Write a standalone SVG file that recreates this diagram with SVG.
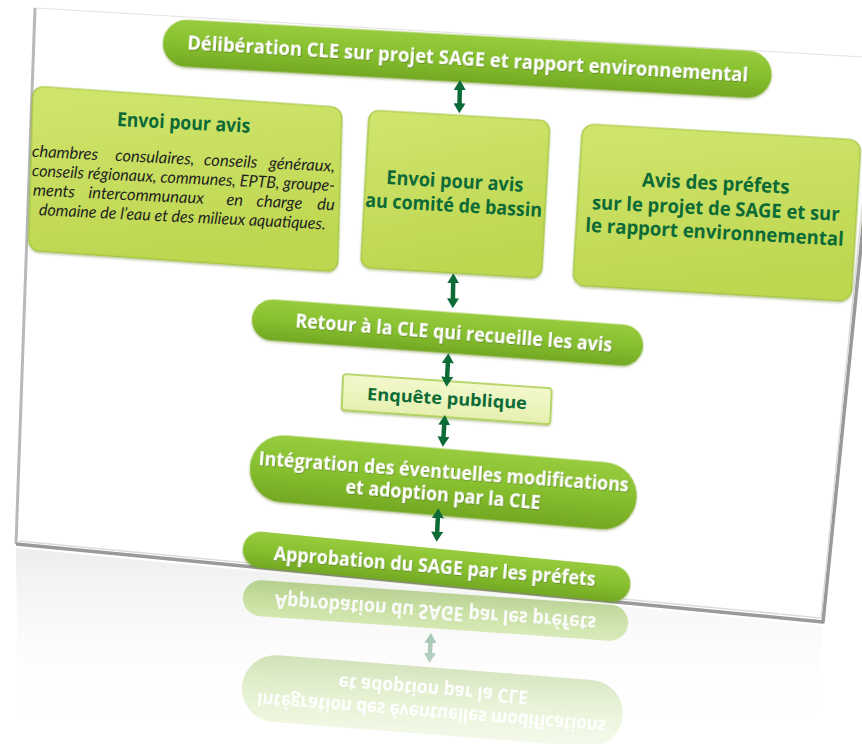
<svg xmlns="http://www.w3.org/2000/svg" width="862" height="744" viewBox="0 0 862 744">
<defs>
  <linearGradient id="gPill" x1="0" y1="0" x2="0" y2="1">
    <stop offset="0" stop-color="#98cb3e"/>
    <stop offset="0.5" stop-color="#87c02f"/>
    <stop offset="1" stop-color="#73a823"/>
  </linearGradient>
  <linearGradient id="gBox" x1="0" y1="0" x2="0.3" y2="1">
    <stop offset="0" stop-color="#d1e56e"/>
    <stop offset="1" stop-color="#bed751"/>
  </linearGradient>
  <linearGradient id="gEnq" x1="0" y1="0" x2="0" y2="1">
    <stop offset="0" stop-color="#f2f8cc"/>
    <stop offset="1" stop-color="#e6f0b0"/>
  </linearGradient>
  <linearGradient id="gCardRef" gradientUnits="userSpaceOnUse" x1="0" y1="550" x2="0" y2="720">
    <stop offset="0" stop-color="#e6e6e6" stop-opacity="0.7"/>
    <stop offset="1" stop-color="#ffffff" stop-opacity="0"/>
  </linearGradient>
  <linearGradient id="gFade" gradientUnits="userSpaceOnUse" x1="0" y1="574" x2="0" y2="744">
    <stop offset="0" stop-color="#ffffff" stop-opacity="0.5"/>
    <stop offset="1" stop-color="#ffffff" stop-opacity="0.1"/>
  </linearGradient>
  <mask id="mFade" maskUnits="userSpaceOnUse" x="0" y="560" width="862" height="184">
    <rect x="0" y="560" width="862" height="184" fill="url(#gFade)"/>
  </mask>
  <filter id="fShadow" x="-5%" y="-20%" width="110%" height="150%">
    <feDropShadow dx="0" dy="1.5" stdDeviation="1.2" flood-color="#4d6b0f" flood-opacity="0.4"/>
  </filter>
  <filter id="fTxt" x="-5%" y="-30%" width="110%" height="160%">
    <feDropShadow dx="0.8" dy="0.8" stdDeviation="0.6" flood-color="#2f4a08" flood-opacity="0.5"/>
  </filter>
  <marker id="ah" viewBox="0 0 10 12" refX="1" refY="6" markerWidth="10" markerHeight="12" markerUnits="userSpaceOnUse" orient="auto-start-reverse">
    <path d="M0,0 L10,6 L0,12 Z" fill="#0d6b37"/>
  </marker>
</defs>
<style>
  .pill{fill:url(#gPill);filter:url(#fShadow);}
  .rpill{fill:url(#gPill);}
  .box{fill:url(#gBox);stroke:#a2c63e;stroke-width:1.2;filter:url(#fShadow);}
  .enq{fill:url(#gEnq);stroke:#a8cb47;stroke-width:1.5;filter:url(#fShadow);}
  .wt{font-family:'Open Sans',Lato,'Liberation Sans',sans-serif;font-weight:700;font-size:20px;fill:#ffffff;text-anchor:middle;}
  .sh{filter:url(#fTxt);}
  .gt{font-family:'Open Sans',Lato,'Liberation Sans',sans-serif;font-weight:700;font-size:19.5px;fill:#0b6a36;text-anchor:middle;}
  .it{font-family:Lato,'Open Sans','Liberation Sans',sans-serif;font-style:italic;font-size:16.5px;fill:#1f1f1f;}
  .arr{stroke:#0d6b37;stroke-width:4.5;fill:none;marker-start:url(#ah);marker-end:url(#ah);}
</style>

<g id="card">
  <polygon points="16,548 823,626 816,744 18,744" fill="url(#gCardRef)"/>
  <polygon points="35,8 880,58 823,622 16,544" fill="#ffffff"/>
  <polyline points="35,8 880,58" fill="none" stroke="#e2e2e2" stroke-width="1"/>
  <polyline points="35,8 16,544" fill="none" stroke="#b9b9b9" stroke-width="3"/>
  <polyline points="16,544 823,622 880,58" fill="none" stroke="#999999" stroke-width="3.5" stroke-linejoin="round"/>
  <polyline points="19,541 821,618 877,58" fill="none" stroke="#dcdcdc" stroke-width="1.5"/>
</g>

<g id="reflection" mask="url(#mFade)">
  <g transform="translate(243,597) rotate(4) scale(1,-1)">
    <rect class="rpill" x="0" y="-18" width="386" height="36" rx="18"/>
    <text class="wt" x="193" y="5" textLength="322" lengthAdjust="spacingAndGlyphs">Approbation du SAGE par les préfets</text>
  </g>
  <line x1="430.5" y1="642" x2="429.9" y2="654" stroke="#0d6b37" stroke-width="4.5" marker-start="url(#ah)" marker-end="url(#ah)"/>
  <g transform="translate(242,686) rotate(4.5) scale(1,-1)">
    <rect class="rpill" x="0" y="-33.5" width="382" height="67" rx="33.5"/>
    <text class="wt" style="font-size:19px" x="191" y="-5.5" textLength="350" lengthAdjust="spacingAndGlyphs">Intégration des éventuelles modifications</text>
    <text class="wt" style="font-size:19px" x="191" y="17.5" textLength="190" lengthAdjust="spacingAndGlyphs">et adoption par la CLE</text>
  </g>
</g>

<g id="n-deliberation">
  <rect class="pill" transform="translate(163,42) rotate(3.15)" x="0" y="-23.5" width="609.5" height="47" rx="23.5"/>
  <text class="wt sh" transform="translate(467.3,65.5) rotate(3.3)" textLength="561.6" lengthAdjust="spacingAndGlyphs">Délibération CLE sur projet SAGE et rapport environnemental</text>
</g>

<g id="n-envoi-avis">
  <rect class="box" transform="matrix(0.9968,0.069,-0.0274,1.0024,33,86)" width="310" height="164" rx="11"/>
  <text class="gt" transform="translate(183.3,129.3) rotate(2.9)" textLength="133.5" lengthAdjust="spacingAndGlyphs">Envoi pour avis</text>
  <g transform="translate(31.7,156.7) rotate(2.85)">
    <text class="it" y="0"><tspan x="0">chambres</tspan> <tspan x="83.3">consulaires,</tspan> <tspan x="172.3">conseils</tspan> <tspan x="303.3" text-anchor="end">généraux,</tspan></text>
    <text class="it" x="1" y="19.3" textLength="303.3" lengthAdjust="spacingAndGlyphs">conseils régionaux, communes, EPTB, groupe-</text>
    <text class="it" y="38.6"><tspan x="3">ments</tspan> <tspan x="58.5">intercommunaux</tspan> <tspan x="196.7">en</tspan> <tspan x="226.7">charge</tspan> <tspan x="305" text-anchor="end">du</tspan></text>
    <text class="it" x="153.5" y="58" text-anchor="middle" textLength="287" lengthAdjust="spacingAndGlyphs">domaine de l’eau et des milieux aquatiques.</text>
  </g>
</g>

<g id="n-comite">
  <rect class="box" transform="matrix(0.9983,0.0591,-0.0548,1.0019,369.3,110)" width="181" height="157" rx="10"/>
  <text class="gt" transform="translate(454.5,187.9) rotate(3.2)" textLength="137" lengthAdjust="spacingAndGlyphs">Envoi pour avis</text>
  <text class="gt" transform="translate(453.3,211.9) rotate(3.3)" textLength="177" lengthAdjust="spacingAndGlyphs">au comité de bassin</text>
</g>

<g id="n-prefets">
  <rect class="box" transform="matrix(0.9975,0.0584,-0.0621,1.0019,582.7,123.7)" width="279" height="161" rx="12"/>
  <text class="gt" transform="translate(715.5,190) rotate(2.8)" textLength="147.7" lengthAdjust="spacingAndGlyphs">Avis des préfets</text>
  <text class="gt" transform="translate(715.5,215) rotate(2.7)" textLength="247.8" lengthAdjust="spacingAndGlyphs">sur le projet de SAGE et sur</text>
  <text class="gt" transform="translate(714.2,238.8) rotate(3.1)" textLength="258.7" lengthAdjust="spacingAndGlyphs">le rapport environnemental</text>
</g>

<g id="n-retour">
  <rect class="pill" transform="translate(252,318.5) rotate(4.1)" x="0" y="-20.5" width="392" height="41" rx="20.5"/>
  <text class="wt sh" transform="translate(453.3,339.5) rotate(4.4)" textLength="317.6" lengthAdjust="spacingAndGlyphs">Retour à la CLE qui recueille les avis</text>
</g>

<g id="n-enquete">
  <rect class="enq" transform="matrix(0.9976,0.0685,-0.0444,1,343.3,374)" width="208.9" height="36" rx="3"/>
  <text class="gt" style="font-size:17px" transform="translate(446.7,404.5) rotate(3.3)" textLength="160" lengthAdjust="spacingAndGlyphs">Enquête publique</text>
</g>

<g id="n-integration">
  <rect class="pill" transform="translate(250,466) rotate(4.8)" x="0" y="-33.5" width="388" height="67" rx="33.5"/>
  <text class="wt sh" transform="translate(443.3,478.3) rotate(4.1)" textLength="371" lengthAdjust="spacingAndGlyphs">Intégration des éventuelles modifications</text>
  <text class="wt sh" transform="translate(442.5,501.3) rotate(4.7)" textLength="195.7" lengthAdjust="spacingAndGlyphs">et adoption par la CLE</text>
</g>

<g id="n-approbation">
  <rect class="pill" transform="translate(243,548) rotate(5.5)" x="0" y="-18" width="389" height="36" rx="18"/>
  <text class="wt sh" transform="translate(434.2,573) rotate(4.6)" textLength="322.7" lengthAdjust="spacingAndGlyphs">Approbation du SAGE par les préfets</text>
</g>

<g id="connectors">
  <line class="arr" x1="459.8" y1="89" x2="459.5" y2="104.3"/>
  <line class="arr" x1="453.2" y1="282.3" x2="452.9" y2="299.3"/>
  <line class="arr" x1="447.9" y1="362.3" x2="447.1" y2="377.7"/>
  <line class="arr" x1="444.3" y1="424" x2="443.4" y2="437.7"/>
  <line class="arr" x1="437.9" y1="517.3" x2="437.1" y2="532.7"/>
</g>
</svg>
